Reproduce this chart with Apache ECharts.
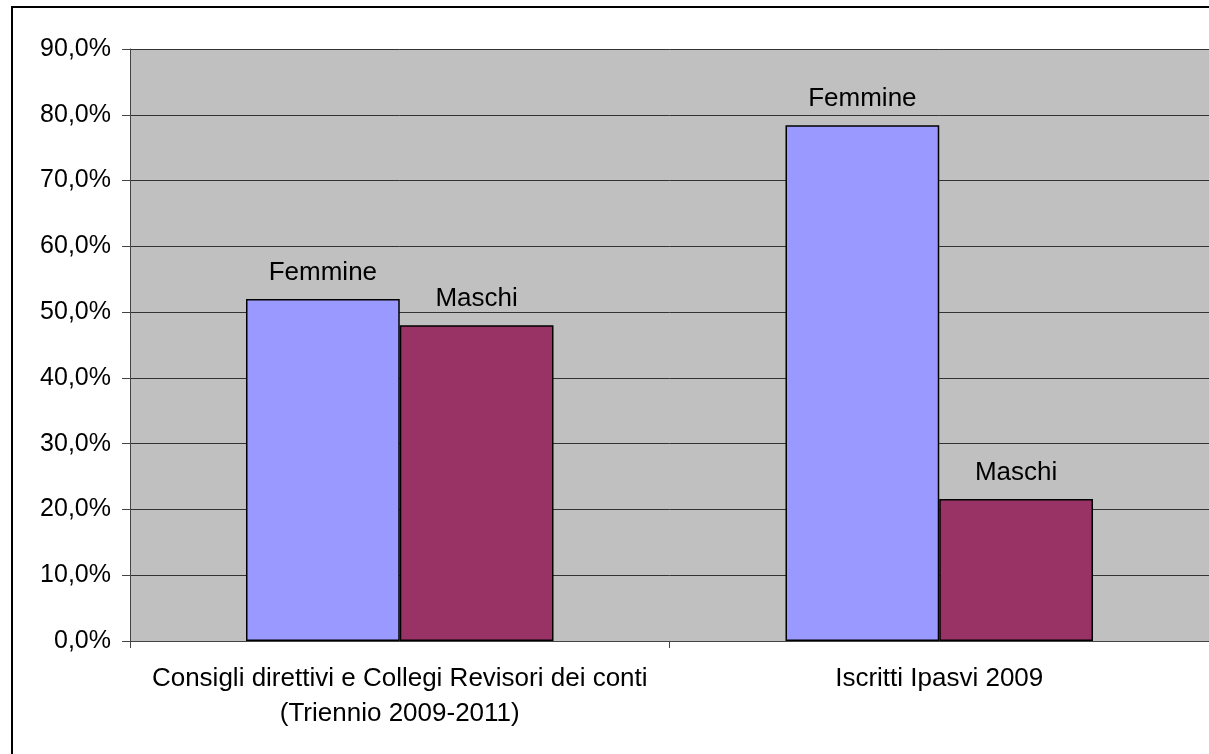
<!DOCTYPE html>
<html lang="it">
<head>
  <meta charset="utf-8">
  <title>Femmine / Maschi</title>
  <script src="https://cdn.jsdelivr.net/npm/echarts@6/dist/echarts.min.js"></script>
  <style>
    html, body { margin: 0; padding: 0; background: #fff; }
    #main { width: 1209px; height: 754px; }
  </style>
</head>
<body>
  <div id="main"></div>
  <script>
    // dati
    var categories = ['Consigli direttivi e Collegi Revisori dei conti\n(Triennio 2009-2011)', 'Iscritti Ipasvi 2009'];
    var femmine = [52.0, 78.4];
    var maschi = [48.0, 21.6];
    var yTicks = [0, 10, 20, 30, 40, 50, 60, 70, 80, 90];

    var font = 'Liberation Sans, Arial, sans-serif';
    var chart = echarts.init(document.getElementById('main'));

    function barLabel(name) {
      return {
        show: true,
        position: 'top',
        distance: 13,
        formatter: name,
        color: '#000',
        fontFamily: font,
        fontSize: 26
      };
    }

    var option = {
      animation: false,
      // cornice esterna
      graphic: [{
        type: 'rect',
        z: -10,
        shape: { x: 12, y: 7, width: 1300, height: 900 },
        style: { fill: 'none', stroke: '#000', lineWidth: 2 }
      }],
      grid: {
        left: 130, top: 49, right: -1, bottom: 113,
        show: true,
        backgroundColor: '#C0C0C0',
        borderWidth: 0
      },
      xAxis: {
        type: 'category',
        data: categories,
        axisLine: { lineStyle: { color: '#444', width: 1 } },
        axisTick: { show: true, length: 7, interval: 0, lineStyle: { color: '#444' } },
        axisLabel: {
          interval: 0,
          margin: 20,
          color: '#000',
          fontFamily: font,
          fontSize: 26,
          lineHeight: 35
        }
      },
      yAxis: {
        type: 'value',
        min: yTicks[0],
        max: yTicks[yTicks.length - 1],
        interval: 10,
        axisLine: { show: true, lineStyle: { color: '#444', width: 1 } },
        axisTick: { show: true, length: 8, lineStyle: { color: '#444' } },
        splitLine: { lineStyle: { color: '#333', width: 1 } },
        axisLabel: {
          margin: 19,
          color: '#000',
          fontFamily: font,
          fontSize: 25,
          formatter: function (v) { return v.toFixed(1).replace('.', ',') + '%'; }
        }
      },
      series: [{
        name: 'Femmine',
        type: 'bar',
        data: femmine,
        barGap: '0%',
        barCategoryGap: '43%',
        itemStyle: { color: '#9999FF', borderColor: '#000', borderWidth: 1.5 },
        label: barLabel('Femmine')
      }, {
        name: 'Maschi',
        type: 'bar',
        data: maschi,
        itemStyle: { color: '#993366', borderColor: '#000', borderWidth: 1.5 },
        label: barLabel('Maschi')
      }]
    };

    chart.setOption(option);
  </script>
</body>
</html>
